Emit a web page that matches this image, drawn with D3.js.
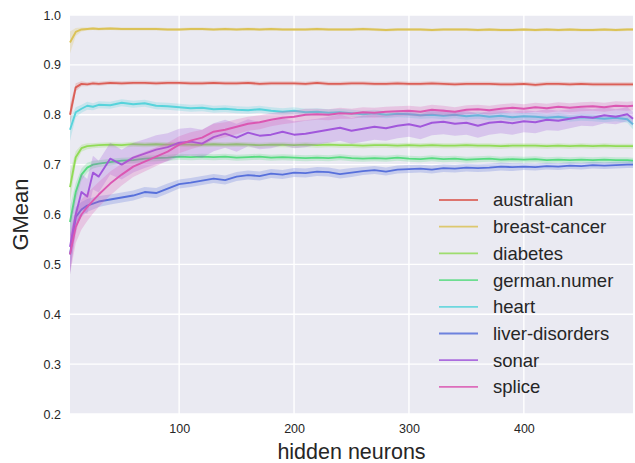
<!DOCTYPE html>
<html>
<head>
<meta charset="utf-8">
<script src="https://cdn.jsdelivr.net/npm/d3@7"></script>
<style>
  body { margin: 0; background: #fff; }
  text { font-family: "Liberation Sans", Arial, sans-serif; fill: #262626; }
</style>
</head>
<body>
<div id="chart"></div>
<script>
var xs = [5, 10, 15, 20, 25, 30, 40, 50, 60, 70, 80, 90, 100, 110, 120, 130, 140, 150, 160, 170,
  180, 190, 200, 210, 220, 230, 240, 250, 260, 270, 280, 290, 300, 310, 320, 330, 340, 350, 360, 370,
  380, 390, 400, 410, 420, 430, 440, 450, 460, 470, 480, 490, 495];

var names = ["australian", "breast-cancer", "diabetes", "german.numer", "heart", "liver-disorders", "sonar", "splice"];
var colors = ["#db5f57", "#dbc257", "#91db57", "#57db80", "#57d3db", "#5770db", "#a157db", "#db57b2"];

var australian = [0.800, 0.855, 0.862, 0.861, 0.863, 0.862, 0.864, 0.863, 0.864, 0.864, 0.863, 0.864, 0.864, 0.863, 0.863, 0.864, 0.863, 0.863, 0.864, 0.862,
  0.863, 0.863, 0.863, 0.862, 0.864, 0.862, 0.862, 0.863, 0.863, 0.862, 0.862, 0.863, 0.862, 0.862, 0.863, 0.862, 0.861, 0.862, 0.862, 0.862,
  0.861, 0.861, 0.862, 0.860, 0.862, 0.862, 0.861, 0.862, 0.861, 0.861, 0.861, 0.861, 0.861];
var breastCancer = [0.945, 0.966, 0.971, 0.972, 0.973, 0.972, 0.973, 0.972, 0.972, 0.972, 0.972, 0.971, 0.971, 0.972, 0.972, 0.971, 0.972, 0.971, 0.972, 0.971,
  0.972, 0.971, 0.971, 0.971, 0.972, 0.971, 0.971, 0.971, 0.972, 0.971, 0.970, 0.971, 0.971, 0.971, 0.970, 0.971, 0.971, 0.971, 0.970, 0.971,
  0.970, 0.970, 0.971, 0.970, 0.971, 0.970, 0.971, 0.970, 0.970, 0.971, 0.970, 0.971, 0.971];
var diabetes = [0.655, 0.715, 0.733, 0.737, 0.738, 0.739, 0.740, 0.739, 0.741, 0.740, 0.741, 0.740, 0.741, 0.740, 0.740, 0.741, 0.740, 0.741, 0.740, 0.739,
  0.740, 0.740, 0.739, 0.740, 0.739, 0.740, 0.739, 0.739, 0.738, 0.739, 0.739, 0.738, 0.739, 0.738, 0.739, 0.738, 0.738, 0.739, 0.738, 0.738,
  0.737, 0.738, 0.738, 0.738, 0.737, 0.738, 0.737, 0.738, 0.737, 0.738, 0.737, 0.737, 0.737];
var germanNumer = [0.585, 0.645, 0.680, 0.694, 0.700, 0.702, 0.705, 0.708, 0.709, 0.712, 0.713, 0.714, 0.716, 0.715, 0.716, 0.715, 0.716, 0.714, 0.715, 0.716,
  0.714, 0.715, 0.714, 0.713, 0.714, 0.713, 0.715, 0.713, 0.712, 0.713, 0.712, 0.714, 0.712, 0.711, 0.713, 0.711, 0.712, 0.710, 0.711, 0.712,
  0.710, 0.711, 0.710, 0.711, 0.709, 0.710, 0.709, 0.710, 0.709, 0.710, 0.709, 0.709, 0.708];
var heart = [0.770, 0.805, 0.812, 0.818, 0.816, 0.820, 0.819, 0.824, 0.821, 0.823, 0.818, 0.817, 0.815, 0.813, 0.814, 0.811, 0.812, 0.810, 0.809, 0.811,
  0.808, 0.806, 0.808, 0.805, 0.806, 0.804, 0.805, 0.803, 0.801, 0.803, 0.800, 0.802, 0.801, 0.799, 0.800, 0.798, 0.800, 0.797, 0.799, 0.796,
  0.798, 0.795, 0.797, 0.796, 0.794, 0.796, 0.793, 0.795, 0.794, 0.792, 0.794, 0.791, 0.781];
var liverDisorders = [0.520, 0.595, 0.610, 0.618, 0.622, 0.626, 0.630, 0.634, 0.638, 0.645, 0.643, 0.652, 0.661, 0.664, 0.668, 0.672, 0.669, 0.676, 0.679, 0.677,
  0.682, 0.680, 0.684, 0.683, 0.686, 0.685, 0.681, 0.684, 0.687, 0.689, 0.686, 0.690, 0.691, 0.692, 0.690, 0.693, 0.692, 0.694, 0.693, 0.694,
  0.696, 0.695, 0.696, 0.695, 0.697, 0.696, 0.698, 0.697, 0.699, 0.698, 0.699, 0.700, 0.700];
var sonar = [0.535, 0.600, 0.645, 0.636, 0.684, 0.676, 0.712, 0.700, 0.714, 0.722, 0.730, 0.735, 0.744, 0.746, 0.742, 0.755, 0.762, 0.754, 0.764, 0.758,
  0.760, 0.766, 0.760, 0.762, 0.766, 0.770, 0.774, 0.768, 0.772, 0.776, 0.773, 0.778, 0.781, 0.776, 0.784, 0.786, 0.782, 0.784, 0.778, 0.784,
  0.786, 0.783, 0.787, 0.785, 0.790, 0.788, 0.792, 0.796, 0.794, 0.799, 0.796, 0.801, 0.792];
var splice = [0.520, 0.575, 0.600, 0.615, 0.628, 0.640, 0.662, 0.680, 0.696, 0.706, 0.716, 0.726, 0.740, 0.748, 0.754, 0.766, 0.770, 0.776, 0.782, 0.785,
  0.790, 0.794, 0.796, 0.800, 0.801, 0.800, 0.803, 0.802, 0.805, 0.804, 0.806, 0.807, 0.808, 0.806, 0.810, 0.808, 0.806, 0.810, 0.811, 0.809,
  0.812, 0.814, 0.812, 0.815, 0.813, 0.816, 0.814, 0.816, 0.817, 0.815, 0.818, 0.817, 0.818];

// half widths of the shaded bands
var australianCi = [0.020, 0.008, 0.005, 0.004, 0.004, 0.004, 0.004, 0.004, 0.004, 0.004, 0.004, 0.004, 0.004, 0.004, 0.004, 0.004, 0.004, 0.004, 0.004, 0.004,
  0.004, 0.004, 0.004, 0.004, 0.004, 0.004, 0.004, 0.004, 0.004, 0.004, 0.004, 0.004, 0.004, 0.004, 0.004, 0.004, 0.004, 0.004, 0.004, 0.004,
  0.004, 0.004, 0.004, 0.004, 0.004, 0.004, 0.004, 0.004, 0.004, 0.004, 0.004, 0.004, 0.004];
var breastCancerCi = [0.022, 0.008, 0.004, 0.003, 0.003, 0.003, 0.003, 0.003, 0.003, 0.003, 0.003, 0.003, 0.003, 0.003, 0.003, 0.003, 0.003, 0.003, 0.003, 0.003,
  0.003, 0.003, 0.003, 0.003, 0.003, 0.003, 0.003, 0.003, 0.003, 0.003, 0.003, 0.003, 0.003, 0.003, 0.003, 0.003, 0.003, 0.003, 0.003, 0.003,
  0.003, 0.003, 0.003, 0.003, 0.003, 0.003, 0.003, 0.003, 0.003, 0.003, 0.003, 0.003, 0.003];
var diabetesCi = [0.030, 0.012, 0.007, 0.006, 0.005, 0.005, 0.005, 0.005, 0.005, 0.005, 0.005, 0.005, 0.005, 0.005, 0.005, 0.005, 0.005, 0.005, 0.005, 0.005,
  0.005, 0.005, 0.005, 0.005, 0.005, 0.005, 0.005, 0.005, 0.005, 0.005, 0.005, 0.005, 0.005, 0.005, 0.005, 0.005, 0.005, 0.005, 0.005, 0.005,
  0.005, 0.005, 0.005, 0.005, 0.005, 0.005, 0.005, 0.005, 0.005, 0.005, 0.005, 0.005, 0.005];
var germanNumerCi = [0.030, 0.018, 0.012, 0.010, 0.008, 0.007, 0.007, 0.006, 0.006, 0.006, 0.006, 0.006, 0.006, 0.006, 0.006, 0.006, 0.006, 0.006, 0.006, 0.006,
  0.006, 0.006, 0.006, 0.006, 0.006, 0.006, 0.006, 0.006, 0.006, 0.006, 0.006, 0.006, 0.006, 0.006, 0.006, 0.006, 0.006, 0.006, 0.006, 0.006,
  0.006, 0.006, 0.006, 0.006, 0.006, 0.006, 0.006, 0.006, 0.006, 0.006, 0.006, 0.006, 0.006];
var heartCi = [0.022, 0.010, 0.008, 0.008, 0.007, 0.007, 0.007, 0.007, 0.007, 0.007, 0.007, 0.007, 0.007, 0.007, 0.007, 0.007, 0.007, 0.007, 0.007, 0.007,
  0.007, 0.007, 0.007, 0.007, 0.007, 0.007, 0.007, 0.007, 0.007, 0.007, 0.007, 0.007, 0.007, 0.007, 0.007, 0.007, 0.007, 0.007, 0.007, 0.007,
  0.007, 0.007, 0.007, 0.007, 0.007, 0.007, 0.007, 0.007, 0.007, 0.007, 0.007, 0.007, 0.010];
var liverDisordersCi = [0.040, 0.020, 0.015, 0.013, 0.012, 0.011, 0.010, 0.010, 0.010, 0.010, 0.010, 0.010, 0.009, 0.009, 0.009, 0.009, 0.009, 0.009, 0.009, 0.009,
  0.009, 0.009, 0.009, 0.009, 0.009, 0.009, 0.009, 0.009, 0.008, 0.008, 0.008, 0.008, 0.008, 0.008, 0.008, 0.008, 0.008, 0.008, 0.008, 0.008,
  0.008, 0.008, 0.007, 0.007, 0.007, 0.007, 0.007, 0.007, 0.007, 0.007, 0.007, 0.007, 0.007];
var sonarCi = [0.050, 0.040, 0.036, 0.035, 0.034, 0.032, 0.032, 0.030, 0.030, 0.029, 0.029, 0.028, 0.028, 0.028, 0.028, 0.028, 0.028, 0.028, 0.027, 0.027,
  0.027, 0.027, 0.027, 0.027, 0.026, 0.026, 0.026, 0.026, 0.026, 0.026, 0.025, 0.025, 0.025, 0.025, 0.025, 0.025, 0.024, 0.024, 0.024, 0.024,
  0.023, 0.023, 0.022, 0.022, 0.021, 0.020, 0.019, 0.018, 0.017, 0.016, 0.015, 0.014, 0.014];
var spliceCi = [0.040, 0.032, 0.030, 0.028, 0.026, 0.025, 0.024, 0.022, 0.021, 0.020, 0.019, 0.018, 0.017, 0.017, 0.016, 0.016, 0.015, 0.015, 0.014, 0.014,
  0.013, 0.013, 0.012, 0.012, 0.011, 0.011, 0.011, 0.010, 0.010, 0.010, 0.010, 0.010, 0.010, 0.010, 0.010, 0.010, 0.009, 0.009, 0.009, 0.009,
  0.009, 0.009, 0.009, 0.009, 0.009, 0.009, 0.009, 0.009, 0.009, 0.009, 0.009, 0.009, 0.009];

var seriesValues = [australian, breastCancer, diabetes, germanNumer, heart, liverDisorders, sonar, splice];
var seriesCi = [australianCi, breastCancerCi, diabetesCi, germanNumerCi, heartCi, liverDisordersCi, sonarCi, spliceCi];
var xTicks = [100, 200, 300, 400];
var yTicks = [0.2, 0.3, 0.4, 0.5, 0.6, 0.7, 0.8, 0.9, 1.0];

var W = 635, H = 463;
var margin = { top: 15, right: 2, bottom: 49, left: 70 },
    width = W - margin.left - margin.right,
    height = H - margin.top - margin.bottom;

var svg = d3.select("#chart")
    .append("svg")
    .attr("width", W)
    .attr("height", H);

var g = svg.append("g")
    .attr("transform", "translate(" + margin.left + "," + margin.top + ")");

var x = d3.scaleLinear().domain([5, 495]).range([0, width]);
var y = d3.scaleLinear().domain([0.2, 1.0]).range([height, 0]);

g.append("rect")
    .attr("width", width)
    .attr("height", height)
    .attr("fill", "#eaeaf2");

// grid
g.append("g").selectAll("line")
    .data(yTicks)
    .enter().append("line")
    .attr("x1", 0).attr("x2", width)
    .attr("y1", d => y(d)).attr("y2", d => y(d))
    .attr("stroke", "#fff").attr("stroke-width", 1.4);
g.append("g").selectAll("line")
    .data(xTicks)
    .enter().append("line")
    .attr("y1", 0).attr("y2", height)
    .attr("x1", d => x(d)).attr("x2", d => x(d))
    .attr("stroke", "#fff").attr("stroke-width", 1.4);

// axes (labels only, seaborn style)
var xAxis = d3.axisBottom(x).tickValues(xTicks).tickSize(0).tickPadding(10).tickFormat(d3.format("d"));
var yAxis = d3.axisLeft(y).tickValues(yTicks).tickSize(0).tickPadding(9).tickFormat(d3.format(".1f"));
var gx = g.append("g")
    .attr("transform", "translate(0," + height + ")")
    .call(xAxis);
var gy = g.append("g").call(yAxis);
[gx, gy].forEach(a => {
    a.select(".domain").remove();
    a.selectAll("text").style("font-size", "12.5px").style("fill", "#262626")
      .style("font-family", "'Liberation Sans', Arial, sans-serif");
});

var area = d3.area()
    .x(d => x(d.x))
    .y0(d => y(d.v - d.c))
    .y1(d => y(d.v + d.c));
var line = d3.line()
    .x(d => x(d.x))
    .y(d => y(d.v));

var plot = g.append("g");
names.forEach((name, i) => {
    var pts = xs.map((xv, j) => ({ x: xv, v: seriesValues[i][j], c: seriesCi[i][j] }));
    plot.append("path")
        .datum(pts)
        .attr("d", area)
        .attr("fill", colors[i])
        .attr("fill-opacity", 0.25);
    plot.append("path")
        .datum(pts)
        .attr("d", line)
        .attr("fill", "none")
        .attr("stroke", colors[i])
        .attr("stroke-width", 1.9)
        .attr("stroke-linejoin", "round");
});

// legend
var legend = svg.append("g").attr("transform", "translate(439,200)");
names.forEach((name, i) => {
    var row = legend.append("g").attr("transform", "translate(0," + (i * 26.7) + ")");
    row.append("line")
        .attr("x1", 0).attr("x2", 39)
        .attr("stroke", colors[i])
        .attr("stroke-width", 1.8)
        .attr("stroke-opacity", 0.85);
    row.append("text")
        .attr("x", 54)
        .attr("dy", "0.35em")
        .style("font-size", "18.5px")
        .text(name);
});

// axis titles
svg.append("text")
    .attr("x", margin.left + width / 2)
    .attr("y", 459)
    .attr("text-anchor", "middle")
    .style("font-size", "21.5px")
    .text("hidden neurons");
svg.append("text")
    .attr("transform", "translate(28," + (margin.top + height / 2) + ") rotate(-90)")
    .attr("text-anchor", "middle")
    .style("font-size", "22px")
    .text("GMean");
</script>
</body>
</html>
